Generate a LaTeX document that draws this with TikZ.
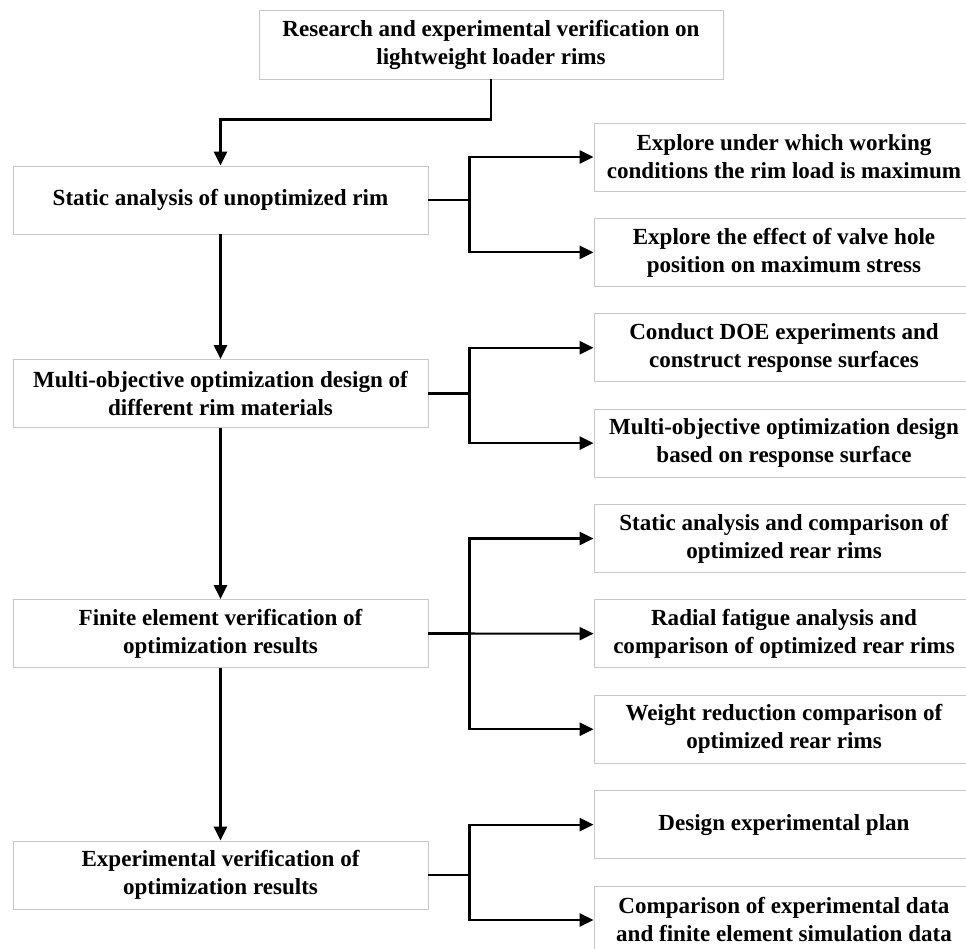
\documentclass[tikz,border=0pt]{standalone}
\usepackage{fontspec}
\setmainfont{Liberation Serif}
\usepackage{tikz}
\usetikzlibrary{arrows.meta}

\begin{document}
\begin{tikzpicture}[
    box/.style={
        rectangle, draw=black!22, line width=0.7pt, inner sep=0pt,
        minimum height=1.7cm, align=center,
        font=\fontsize{16.4}{19.9}\selectfont\bfseries
    },
    mainbox/.style={box, minimum width=10.375cm},
    subbox/.style={box, minimum width=9.5cm},
    arr/.style={-{Triangle[length=3.5mm, width=3.3mm]}, line width=1.5pt},
    link/.style={line width=1.5pt},
]
\useasboundingbox (0,0) rectangle (24.15,-23.725);

% Title box
\node[box, minimum width=11.6cm, minimum height=1.725cm] (title) at (12.275,-1.1125)
    {Research and experimental verification on\\lightweight loader rims};

% Main steps (left column)
\node[mainbox] (static) at (5.5125,-5.0)     {Static analysis of unoptimized rim};
\node[mainbox] (multi)  at (5.5125,-9.8375)  {Multi-objective optimization design of\\different rim materials};
\node[mainbox] (finite) at (5.5125,-15.8375) {Finite element verification of\\optimization results};
\node[mainbox] (exper)  at (5.5125,-21.875)  {Experimental verification of\\optimization results};

% Sub tasks (right column)
\node[subbox] (load)     at (19.6,-3.925)  {Explore under which working\\conditions the rim load is maximum};
\node[subbox] (valve)    at (19.6,-6.309)  {Explore the effect of valve hole\\position on maximum stress};
\node[subbox] (doe)      at (19.6,-8.694)  {Conduct DOE experiments and\\construct response surfaces};
\node[subbox] (moo)      at (19.6,-11.078) {Multi-objective optimization design\\based on response surface};
\node[subbox] (staticcmp) at (19.6,-13.4625) {Static analysis and comparison of\\optimized rear rims};
\node[subbox] (fatigue)  at (19.6,-15.847) {Radial fatigue analysis and\\comparison of optimized rear rims};
\node[subbox] (weight)   at (19.6,-18.231) {Weight reduction comparison of\\optimized rear rims};
\node[subbox] (plan)     at (19.6,-20.616) {Design experimental plan};
\node[subbox] (compare)  at (19.6,-23.0)   {Comparison of experimental data\\and finite element simulation data};

% Main flow
\draw[arr] (title.south) -- ++(0,-1.0) -| (static);
\draw[arr] (static) -- (multi);
\draw[arr] (multi) -- (finite);
\draw[arr] (finite) -- (exper);

% Branches to sub tasks
\draw[link] (static.east) -- ++(1.025,0) coordinate (b1);
\draw[arr] (b1) |- (load);
\draw[arr] (b1) |- (valve);

\draw[link] (multi.east) -- ++(1.025,0) coordinate (b2);
\draw[arr] (b2) |- (doe);
\draw[arr] (b2) |- (moo);

\draw[link] (finite.east) -- ++(1.025,0) coordinate (b3);
\draw[arr] (b3) |- (staticcmp);
\draw[arr] (finite.east) -- (fatigue);
\draw[arr] (b3) |- (weight);

\draw[link] (exper.east) -- ++(1.025,0) coordinate (b4);
\draw[arr] (b4) |- (plan);
\draw[arr] (b4) |- (compare);

\end{tikzpicture}
\end{document}
